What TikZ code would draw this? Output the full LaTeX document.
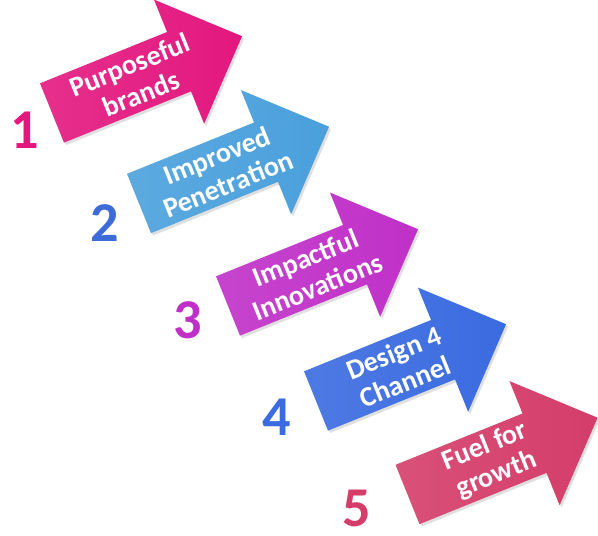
\documentclass[tikz,border=0pt]{standalone}
\usepackage{fontspec}
\setmainfont{Carlito}
\usetikzlibrary{shadows}

\definecolor{purposeful}{HTML}{E3187F}
\definecolor{penetration}{HTML}{4AA0DC}
\definecolor{innovation}{HTML}{C030C8}
\definecolor{channel}{HTML}{3A6BE0}
\definecolor{growth}{HTML}{D43D6A}
\definecolor{numtwo}{HTML}{3D6BD8}

\tikzset{
	steparrow/.style={left color=#1!90!white, right color=#1, draw=none,
		drop shadow={opacity=0.25, shadow xshift=0.05, shadow yshift=-0.06}},
	steptext/.style={text=white, font=\bfseries\fontsize{20}{22}\selectfont,
		align=center, rotate=22},
	stepnum/.style={text=#1, inner sep=0pt, font=\bfseries\fontsize{40}{40}\selectfont}
}

\begin{document}
\begin{tikzpicture}
	\useasboundingbox (0,0) rectangle (14.95,13.4);
	\foreach \n/\x/\y/\col/\numcol/\nx/\ny/\txt in {
		1/1.30/10.575/purposeful/purposeful/0.625/10.15/{Purposeful\\brands},
		2/3.475/8.3125/penetration/numtwo/2.625/7.825/{Improved\\Penetration},
		3/5.70/5.75/innovation/innovation/4.70/5.40/{Impactful\\Innovations},
		4/7.90/3.375/channel/channel/6.925/2.975/{Design 4\\Channel},
		5/10.1875/1.0375/growth/growth/8.925/0.70/{Fuel for\\growth}}
	{
		\begin{scope}[shift={(\x,\y)}, rotate=22]
			\path[steparrow=\col] (0,-0.8) -- (3.425,-0.8) -- (3.425,-1.675)
				-- (5.125,0) -- (3.425,1.675) -- (3.425,0.8) -- (0,0.8) -- cycle;
			\node[steptext] (label\n) at (2.25,0) {\txt};
		\end{scope}
		\node[stepnum=\numcol] (num\n) at (\nx,\ny) {\n};
	}
\end{tikzpicture}
\end{document}
